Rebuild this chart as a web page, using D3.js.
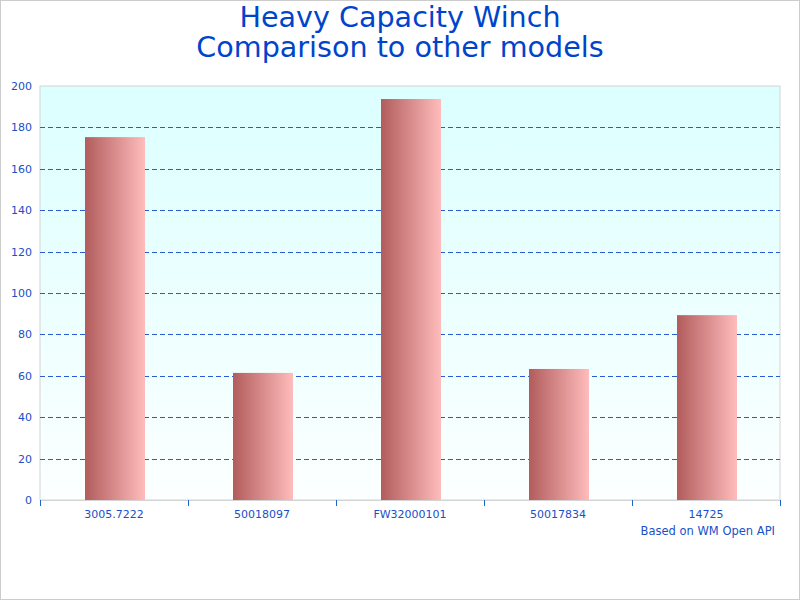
<!DOCTYPE html>
<html lang="en">
<head>
  <meta charset="utf-8">
  <title>Heavy Capacity Winch</title>
  <script src="https://d3js.org/d3.v7.min.js"></script>
  <style>
    body { margin: 0; background: #fff; }
    text { font-family: "DejaVu Sans", Verdana, sans-serif; }
    .grid line { stroke: #2a5bd0; stroke-dasharray: 5,3; stroke-width: 1; }
  </style>
</head>
<body>
<script>
  // chart data
  const models = ["3005.7222", "50018097", "FW32000101", "50017834", "14725"];
  const capacity = [175.3, 61.4, 193.7, 63.3, 89.3];
  const yTicks = [0, 20, 40, 60, 80, 100, 120, 140, 160, 180, 200];
  const titleLines = ["Heavy Capacity Winch", "Comparison to other models"];
  const footnote = "Based on WM Open API";

  const width = 800, height = 600;
  const margin = { top: 86, right: 20, bottom: 100, left: 40 };
  const innerW = width - margin.left - margin.right;
  const innerH = height - margin.top - margin.bottom;

  const svg = d3.select("body").append("svg")
    .attr("width", width)
    .attr("height", height);

  const defs = svg.append("defs");
  const bg = defs.append("linearGradient").attr("id", "bg")
    .attr("x1", 0).attr("y1", 0).attr("x2", 0).attr("y2", 1);
  bg.append("stop").attr("offset", "0%").attr("stop-color", "#dcffff");
  bg.append("stop").attr("offset", "100%").attr("stop-color", "#fcffff");

  const barGrad = defs.append("linearGradient").attr("id", "bar")
    .attr("x1", 0).attr("y1", 0).attr("x2", 1).attr("y2", 0);
  barGrad.append("stop").attr("offset", "0%").attr("stop-color", "#b25c5c");
  barGrad.append("stop").attr("offset", "100%").attr("stop-color", "#ffbcbc");

  // outer frame
  svg.append("rect")
    .attr("x", 0.5).attr("y", 0.5)
    .attr("width", width - 1).attr("height", height - 1)
    .attr("fill", "#fff").attr("stroke", "#cccccc");

  // title, one text per line
  svg.selectAll(".title")
    .data(titleLines)
    .enter().append("text")
    .attr("class", "title")
    .attr("x", width / 2)
    .attr("y", (d, i) => 27 + i * 30)
    .attr("text-anchor", "middle")
    .attr("fill", "#0044cc")
    .style("font-size", "28.6px")
    .text(d => d);

  const g = svg.append("g")
    .attr("transform", `translate(${margin.left},${margin.top})`);

  const x = d3.scaleBand()
    .domain(models)
    .range([0, innerW])
    .paddingInner(0)
    .paddingOuter(0);

  const y = d3.scaleLinear()
    .domain([0, 200])
    .range([innerH, 0]);

  g.append("rect")
    .attr("width", innerW).attr("height", innerH)
    .attr("fill", "url(#bg)")
    .attr("stroke", "#d4d4d4");

  // gridlines
  g.append("g").attr("class", "grid")
    .selectAll("line")
    .data(yTicks.filter(t => t > 0 && t < 200))
    .enter().append("line")
    .attr("x1", 0).attr("x2", innerW)
    .attr("y1", d => Math.round(y(d)) + 0.5)
    .attr("y2", d => Math.round(y(d)) + 0.5);

  // bars
  const barW = 60;
  g.selectAll(".bar")
    .data(capacity)
    .enter().append("rect")
    .attr("class", "bar")
    .attr("x", (d, i) => Math.round(x(models[i]) + (x.bandwidth() - barW) / 2) + 1)
    .attr("y", d => y(d))
    .attr("width", barW)
    .attr("height", d => innerH - y(d))
    .attr("fill", "url(#bar)");

  // y axis
  const yAxis = g.append("g")
    .call(d3.axisLeft(y).tickValues(yTicks).tickSize(0).tickPadding(8));
  yAxis.select(".domain").remove();
  yAxis.selectAll("text")
    .attr("fill", "#1a4fc8")
    .style("font-size", "11px")
    .style("font-family", "DejaVu Sans, sans-serif");

  // x axis: ticks at band edges
  const xAxis = g.append("g")
    .attr("transform", `translate(0,${innerH})`);
  xAxis.append("line")
    .attr("x1", 0).attr("x2", innerW)
    .attr("y1", 0.5).attr("y2", 0.5)
    .attr("stroke", "#d4d4d4");
  xAxis.selectAll(".edge")
    .data(models.concat([null]))
    .enter().append("line")
    .attr("class", "edge")
    .attr("x1", (d, i) => Math.round(i * x.step()) + 0.5)
    .attr("x2", (d, i) => Math.round(i * x.step()) + 0.5)
    .attr("y1", 0).attr("y2", 6)
    .attr("stroke", "#1a66cc");
  xAxis.selectAll(".lbl")
    .data(models)
    .enter().append("text")
    .attr("class", "lbl")
    .attr("x", d => x(d) + x.bandwidth() / 2)
    .attr("y", 18)
    .attr("text-anchor", "middle")
    .attr("fill", "#1a4fc8")
    .style("font-size", "11px")
    .text(d => d);

  svg.append("text")
    .attr("x", 775).attr("y", 535)
    .attr("text-anchor", "end")
    .attr("fill", "#1a4fc8")
    .style("font-size", "11.5px")
    .text(footnote);
</script>
</body>
</html>
